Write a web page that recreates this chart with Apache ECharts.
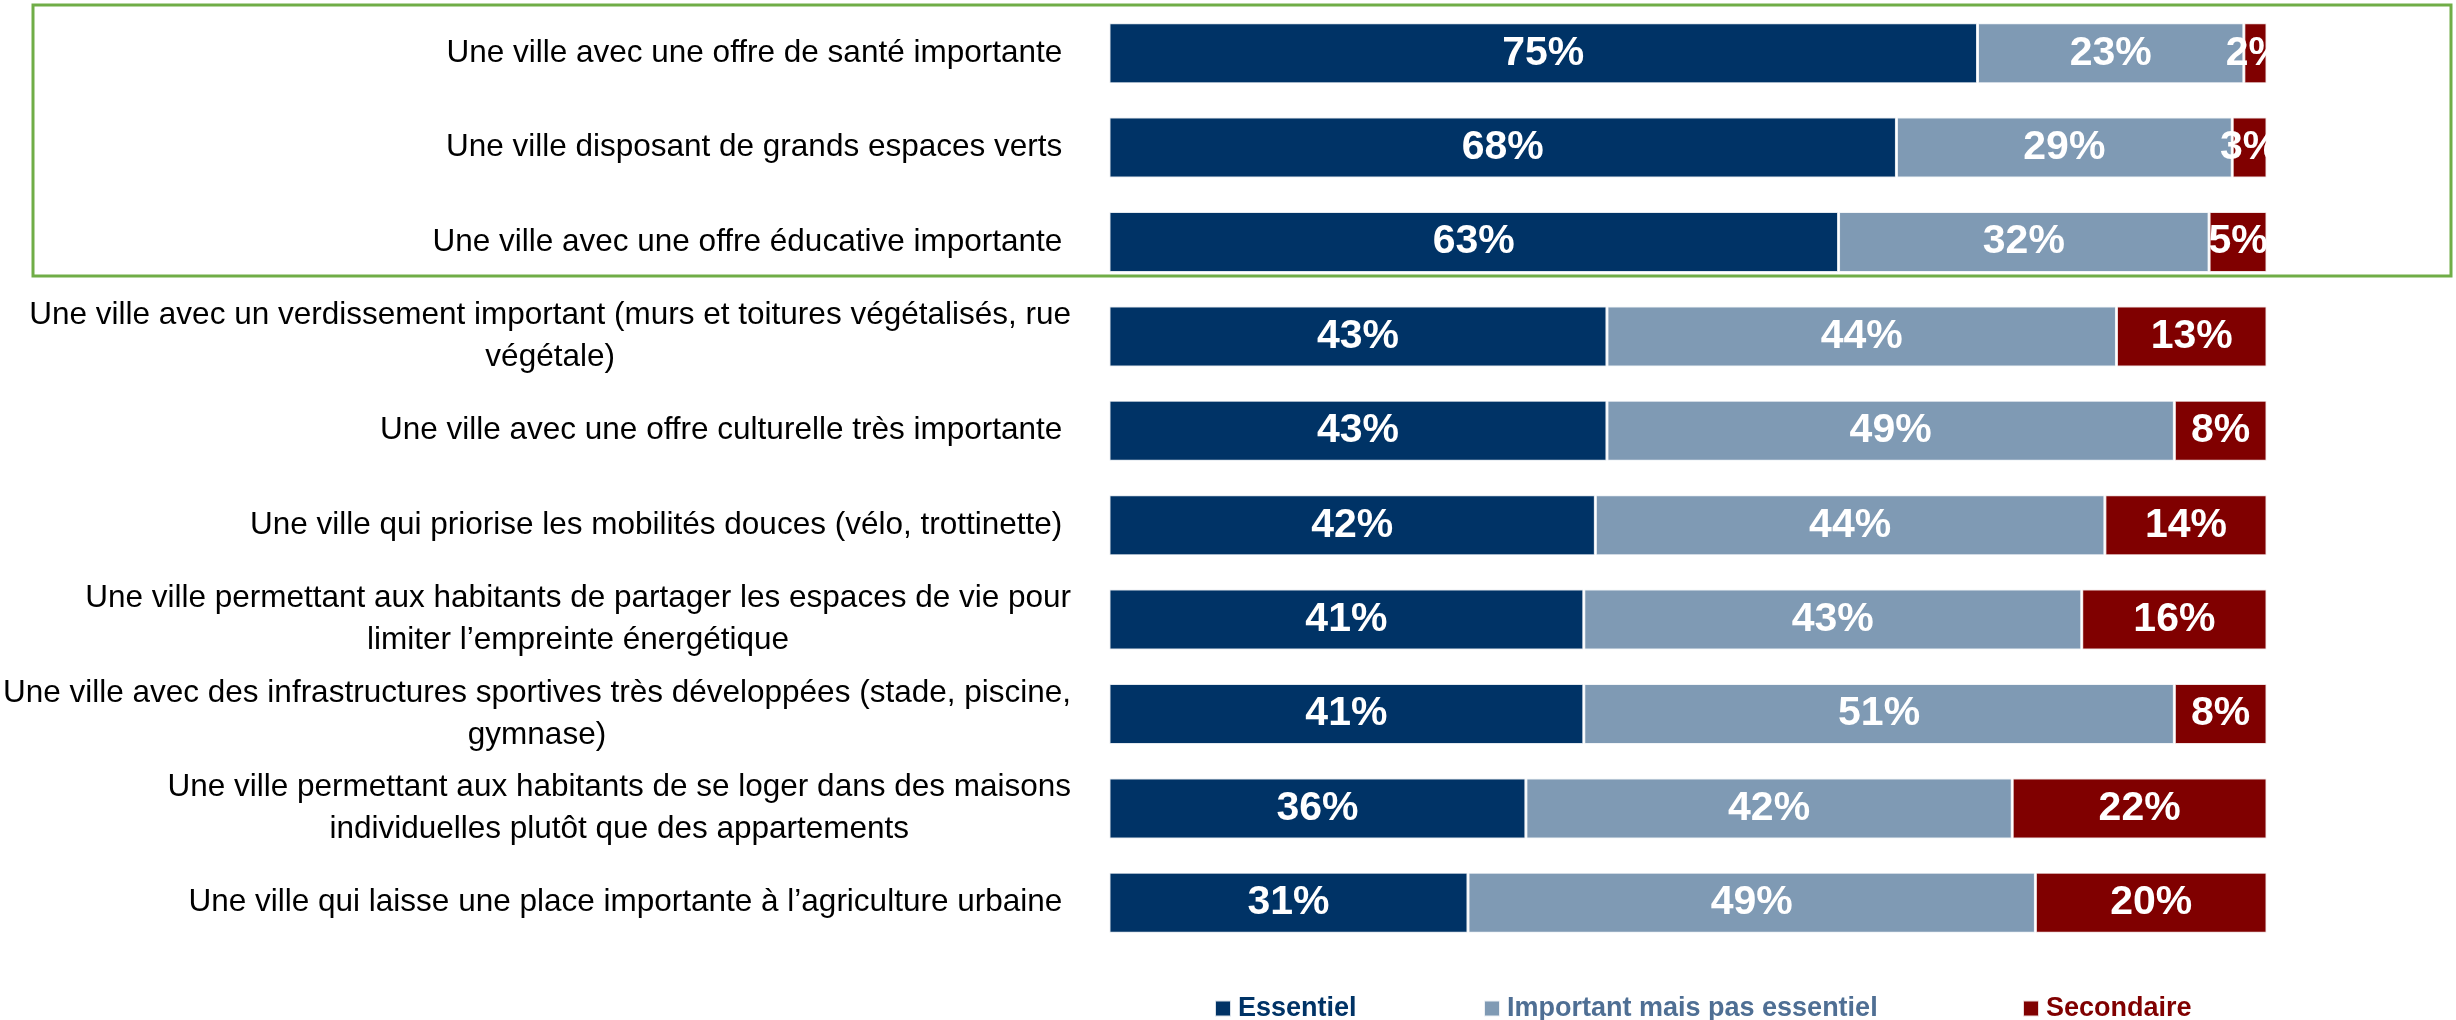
<!DOCTYPE html>
<html>
<head>
<meta charset="utf-8">
<title>La ville idéale</title>
<style>
	html, body { margin: 0; padding: 0; background: #fff; }
	#chart { width: 2456px; height: 1020px; }
</style>
</head>
<body>
<div id="chart"></div>
<script src="https://cdn.jsdelivr.net/npm/echarts@6/dist/echarts.min.js"></script>
<script>
/*******************************/
/* data */
/*******************************/
var categories = [
	"Une ville avec une offre de santé importante ",
	"Une ville disposant de grands espaces verts ",
	"Une ville avec une offre éducative importante ",
	"Une ville avec un verdissement important (murs et toitures végétalisés, rue\nvégétale)",
	"Une ville avec une offre culturelle très importante ",
	"Une ville qui priorise les mobilités douces (vélo, trottinette) ",
	"Une ville permettant aux habitants de partager les espaces de vie pour\nlimiter l’empreinte énergétique",
	"Une ville avec des infrastructures sportives très développées (stade, piscine,\ngymnase)",
	"Une ville permettant aux habitants de se loger dans des maisons\nindividuelles plutôt que des appartements",
	"Une ville qui laisse une place importante à l’agriculture urbaine "
];
var essentiel = [75, 68, 63, 43, 43, 42, 41, 41, 36, 31];
var important = [23, 29, 32, 44, 49, 44, 43, 51, 42, 49];
var secondaire = [2, 3, 5, 13, 8, 14, 16, 8, 22, 20];
var seriesNames = ["Essentiel", "Important mais pas essentiel", "Secondaire"];

/*******************************/
/* styles */
/*******************************/
var barColors = ["#003366", "#7f9ab4", "#800000"];
var legendColors = ["#003366", "#4f6f94", "#800000"];
var legendLeft = [1209, 1478, 2017];
var fontName = "'Liberation Sans', Arial, sans-serif";

/*******************************/
/* build */
/*******************************/
window.onload = function () {
	drawChart();
};

function makeSeries(name, values, color) {
	return {
		name: name,
		type: "bar",
		stack: "total",
		barWidth: 61,
		data: values,
		itemStyle: {
			color: color,
			borderColor: "rgba(255,255,255,0.85)",
			borderWidth: 1.5
		},
		label: {
			show: true,
			position: "inside",
			formatter: "{c}%",
			color: "#fff",
			fontFamily: fontName,
			fontWeight: "bold",
			fontSize: 41
		}
	};
}

function makeLegend(i) {
	return {
		left: legendLeft[i],
		top: 990,
		icon: "rect",
		itemWidth: 16,
		itemHeight: 16,
		itemGap: 0,
		data: [seriesNames[i]],
		textStyle: {
			color: legendColors[i],
			fontFamily: fontName,
			fontWeight: "bold",
			fontSize: 27,
			padding: [0, 0, 0, 2]
		}
	};
}

function drawChart() {
	var myChart = echarts.init(document.getElementById("chart"), null, { renderer: "canvas" });
	var series = [
		makeSeries(seriesNames[0], essentiel, barColors[0]),
		makeSeries(seriesNames[1], important, barColors[1]),
		makeSeries(seriesNames[2], secondaire, barColors[2])
	];
	myChart.setOption({
		backgroundColor: "#fff",
		animation: false,
		color: barColors,
		legend: [makeLegend(0), makeLegend(1), makeLegend(2)],
		grid: {
			left: 1109, right: 189, top: 6, bottom: 70,
			containLabel: false,
			outerBoundsMode: "none"
		},
		xAxis: {
			type: "value",
			min: 0,
			max: 100,
			show: false
		},
		yAxis: {
			type: "category",
			inverse: true,
			data: categories,
			axisLine: { show: false },
			axisTick: { show: false },
			axisLabel: {
				margin: 38,
				formatter: function (value) {
					// centre each line inside the label block
					return value.split("\n").map(function (line) {
						return "{c|" + line + "}";
					}).join("\n");
				},
				rich: {
					c: {
						align: "center",
						color: "#000",
						fontFamily: fontName,
						fontSize: 31.5,
						lineHeight: 42
					}
				}
			}
		},
		series: series
	});

	// white mask past the bar end (labels of thin segments are cut there), and the green frame
	var xEnd = myChart.convertToPixel({ xAxisIndex: 0 }, 100);
	myChart.setOption({
		graphic: [
			{
				type: "rect",
				z: 100,
				shape: { x: xEnd + 1, y: 0, width: 60, height: 950 },
				style: { fill: "#fff" }
			},
			{
				type: "rect",
				z: 101,
				shape: { x: 33, y: 5, width: 2418, height: 271 },
				style: { fill: "none", stroke: "#70ad47", lineWidth: 3 }
			}
		]
	});
}
</script>
</body>
</html>
